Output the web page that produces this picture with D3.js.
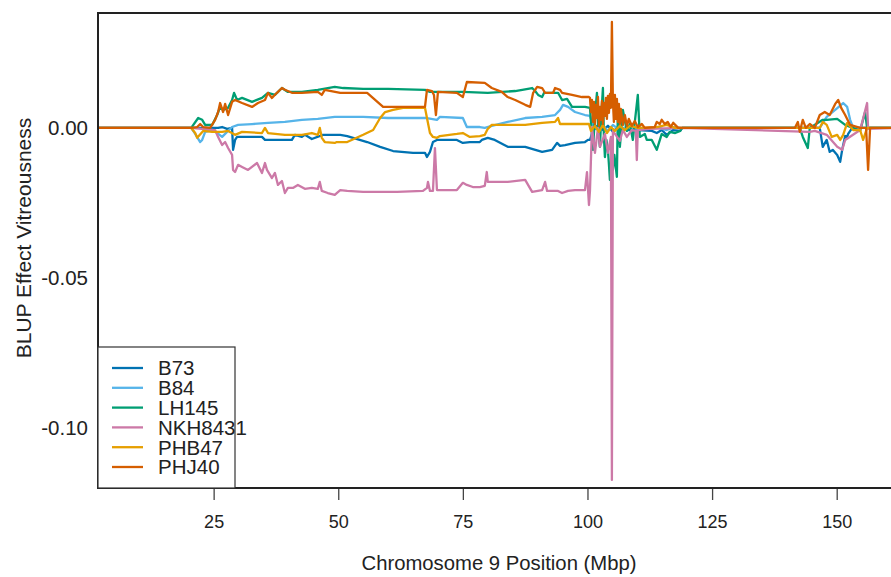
<!DOCTYPE html>
<html>
<head>
<meta charset="utf-8">
<script src="https://cdn.jsdelivr.net/npm/d3@7"></script>
<style>
  body { margin: 0; background: #fff; }
  svg { display: block; }
  text { font-family: "Liberation Sans", Arial, Helvetica, sans-serif; fill: #222; }
</style>
</head>
<body>
<svg id="chart" width="891" height="577"></svg>
<script>
// Inbred lines and their colours (Okabe-Ito palette)
const lineNames = ["B73", "B84", "LH145", "NKH8431", "PHB47", "PHJ40"];
const lineColors = ["#0072B2", "#56B4E9", "#009E73", "#CC79A7", "#E69F00", "#D55E00"];

const xTickValues = [25, 50, 75, 100, 125, 150];
const yTickValues = [0, -0.05, -0.10];

// BLUP effects along chromosome 9: [position (Mbp), effect]
const b73 = [
  [1.8,0],[20.5,0],[25.9,0],[26.7,0.0003],[27.7,-0.0003],[28.7,0],[28.9,-0.0073],[29.3,-0.0040],
  [29.7,-0.0030],[32.7,-0.0030],[34.7,-0.0030],[35.3,-0.0040],[37.9,-0.0040],[40.7,-0.0040],
  [41.3,-0.0023],[42.7,-0.0030],[43.3,-0.0023],[44.7,-0.0037],[46.9,-0.0023],[50.4,-0.0023],
  [51.8,-0.0027],[55.8,-0.0047],[58.4,-0.0063],[61.0,-0.0077],[65.0,-0.0083],[67.4,-0.0083],
  [67.8,-0.0097],[68.4,-0.0080],[69.0,-0.0047],[69.8,-0.0040],[73.8,-0.0040],[75.0,-0.0050],
  [76.4,-0.0047],[78.4,-0.0047],[78.8,-0.0040],[80.0,-0.0033],[81.4,-0.0040],[84.0,-0.0063],
  [87.5,-0.0063],[90.9,-0.0080],[92.9,-0.0073],[93.9,-0.0050],[94.5,-0.0060],[95.5,-0.0057],
  [97.5,-0.0050],[99.5,-0.0047],[100.1,-0.0040],[100.5,-0.0040],[101.1,-0.0010],[102.1,0.0010],
  [103.1,-0.0007],[104.1,0.0007],[105.1,-0.0013],[106.1,0.0003],[108.1,-0.0007],[110.1,-0.0007],
  [112.9,-0.0010],[113.9,-0.0017],[114.9,-0.0007],[115.9,-0.0023],[117.2,-0.0007],[118.6,-0.0010],
  [119.0,0],[146.6,0],[147.2,-0.0063],[148.0,-0.0040],[148.6,-0.0080],[149.2,-0.0073],
  [150.1,-0.0090],[150.7,-0.0113],[151.1,-0.0073],[151.7,-0.0027],[152.1,-0.0030],[152.3,-0.0020],
  [153.1,0],[162.7,0]
];

const b84 = [
  [1.8,0],[20.5,0],[21.3,-0.0020],[22.3,-0.0047],[22.7,-0.0040],[23.3,-0.0013],[24.7,-0.0007],
  [25.7,-0.0017],[26.7,-0.0030],[27.3,-0.0020],[28.7,0.0003],[29.9,0.0010],[32.7,0.0013],
  [35.9,0.0017],[39.3,0.0020],[42.7,0.0027],[45.9,0.0030],[49.3,0.0037],[55.0,0.0037],
  [60.0,0.0033],[67.8,0.0033],[69.8,0.0027],[70.4,0.0037],[75.0,0.0033],[75.8,0.0003],
  [78.4,0.0003],[79.4,0],[80.8,0.0007],[84.0,0.0020],[87.5,0.0033],[90.9,0.0037],[93.5,0.0043],
  [94.5,0.0060],[95.1,0.0077],[96.1,0.0070],[97.5,0.0053],[99.5,0.0043],[100.5,0.0040],
  [101.1,0.0010],[102.1,-0.0007],[103.1,0.0007],[104.1,-0.0010],[105.1,0.0010],[106.1,-0.0003],
  [108.1,0.0003],[110.1,-0.0003],[113.9,0.0003],[115.9,-0.0007],[117.6,0.0003],[118.6,0],
  [146.6,0],[148.0,0.0037],[149.7,0.0060],[151.3,0.0083],[152.1,0.0070],[152.7,0.0027],
  [153.3,0],[162.7,0]
];

const lh145 = [
  [1.8,0],[20.5,0],[21.9,0.0033],[22.7,0.0027],[23.3,0.0010],[24.7,0.0010],[25.7,0.0043],
  [26.3,0.0070],[26.9,0.0060],[27.9,0.0067],[28.7,0.0093],[29.1,0.0117],[29.7,0.0093],
  [30.7,0.0100],[32.7,0.0087],[34.7,0.0100],[35.9,0.0117],[37.3,0.0110],[38.7,0.0133],
  [39.9,0.0120],[42.7,0.0120],[45.9,0.0127],[47.9,0.0133],[49.3,0.0137],[51.0,0.0133],
  [55.0,0.0130],[60.0,0.0130],[67.4,0.0127],[68.4,0.0120],[70.0,0.0120],[75.0,0.0120],
  [80.0,0.0117],[85.5,0.0123],[88.9,0.0133],[89.5,0.0123],[90.1,0.0110],[90.9,0.0103],
  [91.3,0.0117],[94.1,0.0117],[94.9,0.0093],[95.9,0.0097],[96.9,0.0070],[99.5,0.0070],
  [100.5,0.0067],[101.1,-0.0073],[101.5,0.0040],[101.9,0.0117],[102.2,-0.0020],[102.5,-0.0063],
  [102.8,0.0050],[103.1,0.0133],[103.3,-0.0030],[103.5,-0.0097],[103.8,-0.0040],[104.1,-0.0073],
  [104.3,-0.0120],[104.5,-0.0173],[104.8,-0.0110],[105.1,-0.0140],[105.4,-0.0090],[105.9,-0.0163],
  [106.1,0.0060],[106.5,-0.0063],[107.1,0.0060],[107.9,-0.0010],[108.5,0.0013],[109.1,-0.0040],
  [110.1,0.0110],[110.5,-0.0030],[111.5,-0.0020],[111.9,-0.0040],[112.9,-0.0040],[113.9,-0.0073],
  [114.9,-0.0020],[115.9,-0.0030],[116.5,-0.0013],[117.6,-0.0017],[118.6,-0.0010],[119.0,0],
  [142.6,0],[143.2,-0.0030],[144.2,-0.0067],[144.6,0],[147.2,0.0027],[148.0,0.0027],
  [150.1,0.0030],[151.7,0.0010],[154.7,-0.0010],[155.7,0.0053],[156.1,0],[162.7,0]
];

const nkh8431 = [
  [1.8,0],[20.5,0],[25.3,-0.0007],[25.9,-0.0030],[26.7,-0.0057],[27.3,-0.0047],[27.9,-0.0067],
  [28.7,-0.0090],[28.9,-0.0140],[29.3,-0.0147],[29.9,-0.0123],[30.7,-0.0130],[31.9,-0.0140],
  [33.7,-0.0117],[34.7,-0.0150],[35.3,-0.0117],[35.7,-0.0140],[36.7,-0.0167],[37.3,-0.0150],
  [37.9,-0.0190],[38.7,-0.0177],[39.3,-0.0217],[39.9,-0.0200],[40.9,-0.0200],[41.9,-0.0190],
  [43.3,-0.0203],[44.7,-0.0200],[45.9,-0.0203],[46.3,-0.0180],[46.7,-0.0210],[47.9,-0.0217],
  [49.3,-0.0223],[49.7,-0.0217],[50.4,-0.0207],[51.8,-0.0210],[55.0,-0.0213],[61.8,-0.0213],
  [67.0,-0.0210],[67.8,-0.0200],[68.0,-0.0180],[68.4,-0.0210],[69.0,-0.0210],[69.4,-0.0067],
  [69.8,-0.0207],[73.8,-0.0207],[75.0,-0.0183],[75.8,-0.0190],[77.0,-0.0197],[78.4,-0.0197],
  [79.4,-0.0193],[79.8,-0.0147],[80.0,-0.0180],[81.4,-0.0180],[84.0,-0.0180],[87.5,-0.0173],
  [88.9,-0.0213],[90.9,-0.0207],[91.5,-0.0180],[91.9,-0.0210],[94.1,-0.0210],[94.9,-0.0217],
  [96.1,-0.0210],[97.5,-0.0207],[99.5,-0.0207],[99.9,-0.0147],[100.3,-0.0257],[100.5,-0.0210],
  [100.9,0.0003],[101.5,-0.0083],[102.1,0],[102.5,-0.0063],[103.5,-0.0020],[104.1,-0.0083],
  [104.7,-0.0030],[104.9,-0.1173],[105.1,-0.0010],[106.5,-0.0043],[107.1,-0.0007],[107.9,-0.0030],
  [108.9,-0.0007],[109.7,-0.0010],[109.9,-0.0107],[110.1,-0.0007],[112.5,-0.0003],[118.6,0],
  [144.6,-0.0013],[145.6,-0.0010],[148.0,-0.0023],[150.1,-0.0063],[151.1,-0.0073],[151.7,-0.0040],
  [154.7,-0.0007],[156.1,0.0083],[156.3,-0.0003],[162.7,0]
];

const phb47 = [
  [1.8,0],[20.5,0],[21.3,-0.0017],[21.7,-0.0033],[22.9,-0.0010],[24.7,-0.0013],[25.9,-0.0013],
  [26.7,-0.0013],[27.9,-0.0010],[29.3,-0.0023],[30.7,-0.0013],[34.7,-0.0017],[35.3,0],
  [35.9,-0.0017],[39.3,-0.0023],[42.7,-0.0023],[44.7,-0.0017],[45.9,-0.0023],[46.3,0],
  [46.7,-0.0033],[47.3,-0.0047],[49.3,-0.0050],[49.7,-0.0047],[51.8,-0.0047],[55.0,-0.0023],
  [57.0,-0.0007],[58.4,0.0033],[59.4,0.0053],[61.0,0.0060],[63.0,0.0067],[67.4,0.0067],
  [67.8,0.0033],[68.4,-0.0017],[69.0,-0.0030],[69.8,-0.0033],[70.4,-0.0027],[73.8,-0.0020],
  [75.0,-0.0017],[76.4,-0.0030],[78.4,-0.0027],[79.4,-0.0023],[80.0,-0.0003],[80.8,0.0010],
  [84.0,0.0010],[87.5,0.0010],[90.9,0.0017],[93.5,0.0020],[94.1,0.0033],[94.5,0.0013],
  [97.5,0.0013],[100.3,0.0013],[100.7,-0.0010],[101.5,0.0007],[102.3,-0.0013],[103.1,0.0010],
  [103.9,-0.0017],[104.7,0.0003],[105.5,-0.0010],[106.5,0.0007],[107.5,-0.0007],[108.5,0.0007],
  [110.1,0],[113.9,0.0003],[115.9,0.0010],[117.6,0],[146.6,0],[147.2,0.0020],[148.0,0.0010],
  [149.0,-0.0030],[150.1,-0.0023],[150.7,-0.0040],[151.3,-0.0023],[152.1,0.0017],[153.3,-0.0007],
  [154.7,-0.0007],[155.3,-0.0040],[156.1,0],[162.7,0]
];

const phj40 = [
  [1.8,0],[20.5,0],[21.7,0.0003],[22.3,0.0013],[22.9,0.0003],[24.3,0],[25.3,0.0027],[25.9,0.0053],
  [26.3,0.0083],[26.9,0.0053],[27.3,0.0080],[27.9,0.0043],[28.7,0.0087],[29.3,0.0093],
  [30.7,0.0083],[32.7,0.0070],[33.9,0.0083],[35.3,0.0093],[35.9,0.0117],[36.7,0.0100],
  [37.7,0.0117],[38.7,0.0133],[39.3,0.0127],[40.7,0.0117],[42.7,0.0117],[45.9,0.0120],
  [46.7,0.0110],[47.3,0.0127],[50.4,0.0117],[55.8,0.0117],[59.0,0.0070],[67.4,0.0070],
  [67.8,0.0127],[68.8,0.0123],[69.2,0.0110],[69.6,0.0043],[70.0,0.0120],[73.8,0.0117],
  [75.0,0.0103],[75.8,0.0153],[79.4,0.0150],[80.8,0.0133],[82.8,0.0120],[84.0,0.0103],
  [85.5,0.0093],[87.5,0.0077],[88.5,0.0070],[89.1,0.0117],[89.9,0.0137],[90.9,0.0133],
  [91.5,0.0117],[93.1,0.0117],[93.5,0.0133],[94.5,0.0127],[94.9,0.0117],[96.9,0.0110],
  [98.9,0.0103],[100.3,0.0103],[100.5,0.0100],[100.7,0.0053],[100.9,0.0093],[101.1,0.0020],
  [101.3,0.0087],[101.5,0.0013],[101.7,0.0077],[101.9,0.0033],[102.1,0.0103],[102.3,0.0007],
  [102.5,0.0070],[102.7,0.0027],[102.9,0.0090],[103.1,0.0013],[103.3,0.0083],[103.5,0.0040],
  [103.7,0.0100],[103.9,0.0030],[104.1,0.0107],[104.3,0.0050],[104.5,0.0113],[104.7,0.0067],
  [104.9,0.0353],[105.1,0.0090],[105.3,0.0020],[105.5,0.0110],[105.7,0.0030],[105.9,0.0097],
  [106.1,0.0020],[106.3,0.0080],[106.5,0.0013],[106.7,0.0063],[107.1,0.0010],[107.5,0.0043],
  [107.9,0.0007],[108.3,0.0030],[108.9,0.0007],[109.5,0.0023],[110.1,0.0003],[110.9,0.0013],
  [111.5,0],[113.5,0.0003],[113.9,0.0020],[114.5,0.0013],[114.9,0.0027],[115.5,0.0013],
  [116.1,0.0020],[116.7,0.0003],[117.2,0.0017],[118.2,0],[141.6,0],[142.2,0.0020],
  [142.6,-0.0013],[143.2,0.0027],[143.8,0],[144.6,0.0013],[145.6,0],[146.6,0.0043],
  [147.6,0.0053],[148.6,0.0043],[149.7,0.0080],[150.3,0.0093],[150.9,0.0067],[151.7,0.0043],
  [152.7,0.0010],[154.7,0],[155.9,0],[156.3,-0.0140],[156.7,0],[162.7,0]
];

const seriesValues = [b73, b84, lh145, nkh8431, phb47, phj40];

// Plot geometry
const plot = { left: 98, top: 13, right: 900, bottom: 488 };

const svg = d3.select("#chart");

const x = d3.scaleLinear().domain([1.8, 162.7]).range([plot.left, plot.right]);
const y = d3.scaleLinear().domain([-0.12, 0.0383]).range([plot.bottom, plot.top]);

svg.append("defs").append("clipPath").attr("id", "plot-clip")
  .append("rect")
  .attr("x", plot.left).attr("y", plot.top)
  .attr("width", plot.right - plot.left).attr("height", plot.bottom - plot.top);

// Effect traces, drawn in legend order
const line = d3.line().x(d => x(d[0])).y(d => y(d[1]));
const traces = svg.append("g").attr("clip-path", "url(#plot-clip)");
seriesValues.forEach((vals, i) => {
  traces.append("path")
    .datum(vals)
    .attr("d", line)
    .attr("fill", "none")
    .attr("stroke", lineColors[i])
    .attr("stroke-width", 2.3)
    .attr("stroke-linejoin", "round");
});

// Bottom axis
const xAxis = svg.append("g")
  .attr("transform", `translate(0,${plot.bottom})`)
  .call(d3.axisBottom(x).tickValues(xTickValues).tickSize(12).tickSizeOuter(0).tickPadding(15)
    .tickFormat(d3.format("d")));
xAxis.select(".domain").remove();
xAxis.selectAll(".tick line").attr("stroke", "#444").attr("stroke-width", 1.3);
xAxis.selectAll(".tick text").attr("font-size", 18).attr("fill", "#222");

// Left axis labels (no tick marks)
const yAxis = svg.append("g")
  .attr("transform", `translate(${plot.left},0)`)
  .call(d3.axisLeft(y).tickValues(yTickValues).tickSize(0).tickPadding(10)
    .tickFormat(v => v.toFixed(2)));
yAxis.select(".domain").remove();
yAxis.selectAll(".tick text").attr("font-size", 20.5).attr("fill", "#222");

// Plot frame
svg.append("rect")
  .attr("x", plot.left).attr("y", plot.top)
  .attr("width", plot.right - plot.left).attr("height", plot.bottom - plot.top)
  .attr("fill", "none").attr("stroke", "#222").attr("stroke-width", 2);

// Axis titles
svg.append("text")
  .attr("x", (plot.left + plot.right) / 2).attr("y", 570)
  .attr("text-anchor", "middle").attr("font-size", 20.3)
  .text("Chromosome 9 Position (Mbp)");

svg.append("text")
  .attr("transform", `translate(31,238) rotate(-90)`)
  .attr("text-anchor", "middle").attr("font-size", 21)
  .text("BLUP Effect Vitreousness");

// Legend
const legend = svg.append("g");
legend.append("rect")
  .attr("x", plot.left).attr("y", 347)
  .attr("width", 137).attr("height", plot.bottom - 347)
  .attr("fill", "#fff").attr("stroke", "#333").attr("stroke-width", 1.2);
lineNames.forEach((name, i) => {
  const ly = 368 + i * 19.8;
  legend.append("line")
    .attr("x1", 112).attr("x2", 143).attr("y1", ly).attr("y2", ly)
    .attr("stroke", lineColors[i]).attr("stroke-width", 2.3);
  legend.append("text")
    .attr("x", 158).attr("y", ly).attr("dy", "0.36em")
    .attr("font-size", 20.5)
    .text(name);
});
</script>
</body>
</html>
